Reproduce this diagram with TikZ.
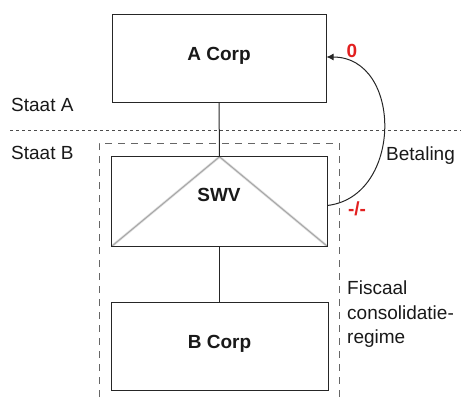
\documentclass[tikz,border=0pt]{standalone}
\usepackage{fontspec}
\setmainfont{Liberation Sans}
\usetikzlibrary{arrows.meta}
\definecolor{labelred}{RGB}{226,32,32}
\tikzset{
  corp/.style={draw=black!85, line width=1pt, inner sep=0pt},
  link/.style={draw=black!85, line width=1pt},
  txt/.style={font=\fontsize{19}{26}\selectfont, inner sep=0pt, text=black!90},
  boldtxt/.style={txt, font=\fontsize{19}{26}\selectfont\bfseries},
  redtxt/.style={boldtxt, text=labelred},
}
\begin{document}
\begin{tikzpicture}[x=1pt,y=-1pt]
\useasboundingbox (0,0) rectangle (461,399);
\begin{scope}
\clip (0,0) rectangle (461,399);
% consolidation boundary (continues below the frame)
\draw[gray!80!black, line width=0.9pt, dash pattern=on 7pt off 6pt] (99,410) -- (99,143) -- (339,143) -- (339,410);
\end{scope}
% border between the two states
\draw[black!70, line width=1pt, dash pattern=on 3pt off 3pt] (10,130) -- (461,130);

% entities
\node[corp, minimum width=214pt, minimum height=88pt] (acorp) at (219,58) {};
\node[minimum width=215pt, minimum height=89pt, inner sep=0pt] (swv) at (219.5,201.5) {};
\node[corp, minimum width=217pt, minimum height=88pt] (bcorp) at (219.5,346) {};

% transparent entity marker with a soft shadow
\begin{scope}
\clip (swv.north west) rectangle (swv.south east);
\draw[black!12, line width=2.5pt, shift={(1pt,2pt)}]
  (swv.south west) -- (swv.north) -- (swv.south east);
\draw[gray!70, line width=1pt]
  (swv.south west) -- (swv.north) -- (swv.south east);
\end{scope}
\draw[link] (swv.north west) rectangle (swv.south east);

\node[boldtxt] at ([yshift=2pt]acorp.center) {A Corp};
\node[boldtxt] at (219,195) {SWV};
\node[boldtxt] at ([yshift=2pt]bcorp.center) {B Corp};

% ownership lines
\draw[link] (acorp.south) -- (swv.north);
\draw[link] (swv.south) -- (bcorp.north);

% payment
\coordinate (payout) at ([yshift=-4pt]swv.east);
\coordinate (payin) at ([yshift=1pt]acorp.east);
\draw[link, -{Latex[length=7pt,width=7pt]}] (payout) .. controls (403,197) and (403,57) .. (payin);

% labels
\node[redtxt] at (352,51) {0};
\node[redtxt] at (357,209) {-/-};
\node[txt, anchor=west] at (386,156) {Betaling};
\node[txt, anchor=west] at (11,105) {Staat A};
\node[txt, anchor=west] at (11,153) {Staat B};
\node[txt, anchor=west] at (347,288) {Fiscaal};
\node[txt, anchor=west] at (347,313) {consolidatie-};
\node[txt, anchor=west] at (347,339) {regime};
\end{tikzpicture}
\end{document}
